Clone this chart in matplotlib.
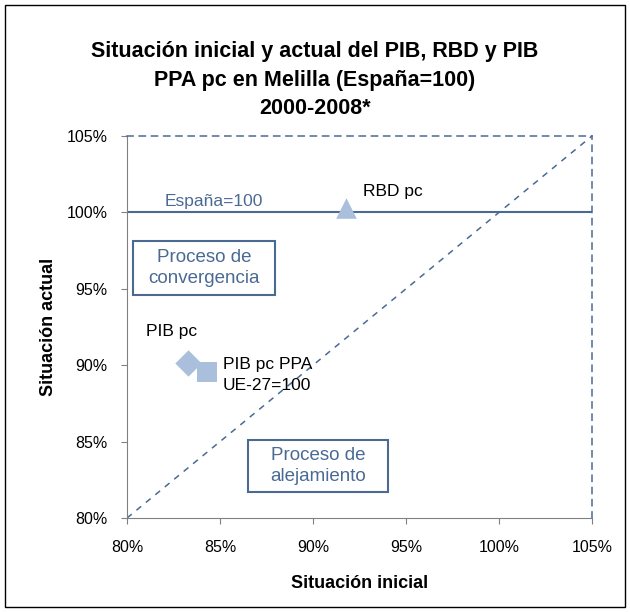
import numpy as np
import matplotlib.pyplot as plt
from matplotlib.patches import Rectangle
from matplotlib.ticker import FuncFormatter

plt.rcParams['font.family'] = ['Liberation Sans', 'DejaVu Sans']

# data (Espana = 100)
series = ['RBD pc', 'PIB pc', 'PIB pc PPA\nUE-27=100']
inicial = [91.8, 83.3, 84.3]
actual = [100.3, 90.15, 89.55]
markers = ['^', 'D', 's']
xticks = [80, 85, 90, 95, 100, 105]
yticks = [80, 85, 90, 95, 100, 105]

# annotation boxes: (x0, y0, width, height, text)
boxes = [(80.32, 94.6, 7.64, 3.53, 'Proceso de\nconvergencia'),
         (86.5, 81.7, 7.53, 3.4, 'Proceso de\nalejamiento')]

dark = '#4a6a94'
light = '#a9bfdb'

fig = plt.figure(figsize=(6.3, 6.12), dpi=100)
fig.patches.append(Rectangle((0.008, 0.008), 0.984, 0.984, transform=fig.transFigure,
                             fill=False, edgecolor='black', linewidth=1.0))
ax = fig.add_axes([0.2016, 0.1536, 0.7381, 0.6242])

ax.plot([80, 105], [80, 105], ls=(0, (4, 4)), color=dark, lw=1.1)
ax.axhline(100, color=dark, lw=1.5)

for xi, yi, m in zip(inicial, actual, markers):
    ax.scatter(xi, yi, marker=m, s=220 if m != 'D' else 180, color=light, zorder=3, linewidths=0)

ax.text(inicial[0] + 0.9, actual[0] + 0.8, series[0], fontsize=12.5)
ax.text(81.0, 92.2, series[1], fontsize=12.5, va='center')
ax.text(85.15, 89.35, series[2], fontsize=12.5, linespacing=1.5, va='center')
ax.text(82.0, 100.4, 'España=100', fontsize=12.5, color=dark)

for x0, y0, w, h, t in boxes:
    ax.add_patch(Rectangle((x0, y0), w, h, fc='white', ec=dark, lw=1.5, zorder=4))
    ax.text(x0 + w / 2, y0 + h / 2, t, fontsize=13.5, color=dark, ha='center', va='center',
            linespacing=1.35, zorder=5)

ax.set_xlim(80, 105)
ax.set_ylim(80, 105)
ax.set_xticks(xticks)
ax.set_yticks(yticks)
pct = FuncFormatter(lambda v, p: '%d%%' % v)
ax.xaxis.set_major_formatter(pct)
ax.yaxis.set_major_formatter(pct)
ax.tick_params(labelsize=11.5, length=4, color='#808080')
ax.tick_params(axis='x', pad=12)
ax.tick_params(axis='y', pad=10)

for s in ['top', 'right']:
    ax.spines[s].set_linestyle((0, (4, 4)))
    ax.spines[s].set_color(dark)
    ax.spines[s].set_linewidth(1.1)
for s in ['left', 'bottom']:
    ax.spines[s].set_color('#808080')

ax.set_xlabel('Situación inicial', fontsize=13, fontweight='bold', labelpad=14)
ax.set_ylabel('Situación actual', fontsize=13, fontweight='bold', labelpad=7)

fig.text(0.5, 0.869, 'Situación inicial y actual del PIB, RBD y PIB\nPPA pc en Melilla (España=100)\n2000-2008*',
         ha='center', va='center', fontsize=15.5, fontweight='bold', linespacing=1.45)

plt.savefig('out.png', dpi=100)
